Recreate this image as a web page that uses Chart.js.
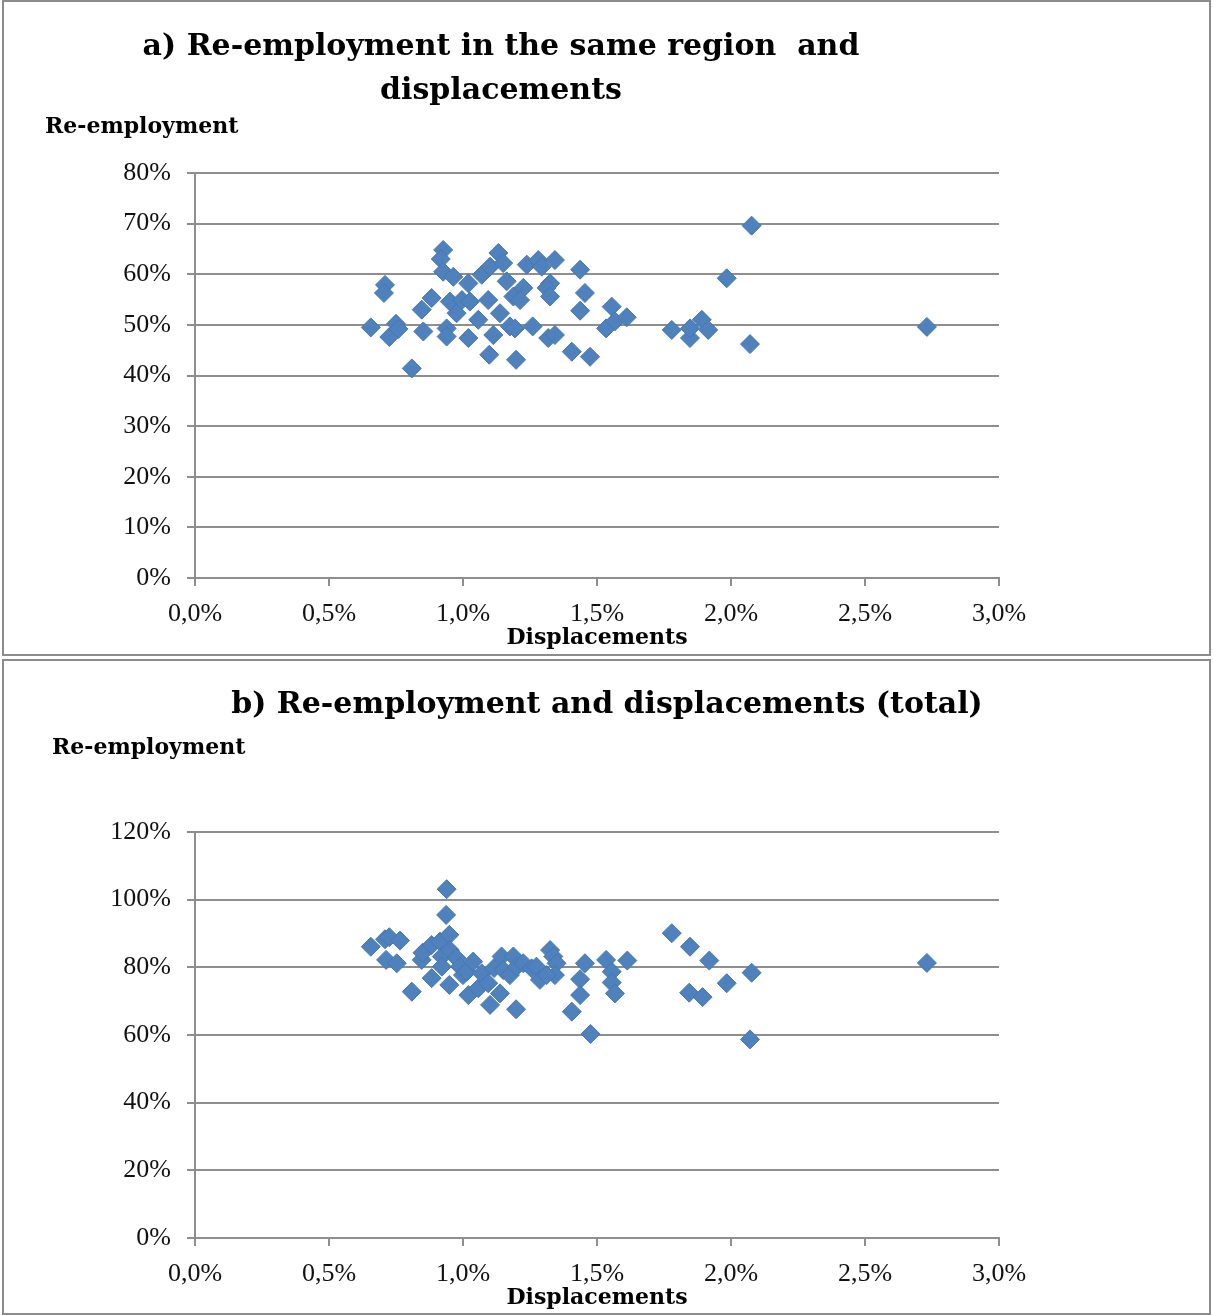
<!DOCTYPE html>
<html>
<head>
<meta charset="utf-8">
<title>Re-employment and displacements</title>
<script src="https://cdn.jsdelivr.net/npm/chart.js@4/dist/chart.umd.min.js"></script>
<style>
  html, body { margin: 0; padding: 0; background: #fff; }
  body { width: 1213px; height: 1316px; position: relative; overflow: hidden; }
  .frame { position: absolute; left: 2px; width: 1209px; height: 656px; border: 2px solid #8c8c8c; box-sizing: border-box; }
  #frameA { top: 0; }
  #frameB { top: 659px; }
  canvas { position: absolute; left: 0; }
  #chartA { top: 0; }
  #chartB { top: 657px; }
</style>
</head>
<body>
<div class="frame" id="frameA"></div>
<div class="frame" id="frameB"></div>
<canvas id="chartA" width="1213" height="657"></canvas>
<canvas id="chartB" width="1213" height="659"></canvas>
<script>
// Displacements (% of employment) and re-employment in the same region (%), one point per region
const displacementsA = [
  0.656, 0.709, 0.705, 0.725, 0.750, 0.759, 0.809, 0.846, 0.852, 0.883,
  0.926, 0.917, 0.926, 0.964, 0.939, 0.939, 0.951, 0.976, 0.996, 1.020,
  1.026, 1.020, 1.057, 1.070, 1.101, 1.094, 1.098, 1.113, 1.132, 1.150,
  1.163, 1.138, 1.188, 1.175, 1.198, 1.225, 1.213, 1.194, 1.238, 1.260,
  1.281, 1.294, 1.343, 1.325, 1.312, 1.325, 1.318, 1.343, 1.406, 1.437,
  1.455, 1.437, 1.474, 1.555, 1.534, 1.567, 1.611, 1.779, 1.847, 1.847,
  1.891, 1.915, 1.984, 2.077, 2.071, 2.731
];
const reemploymentSameRegion = [
  49.5, 57.9, 56.3, 47.6, 50.2, 49.2, 41.4, 53.0, 48.7, 55.3,
  64.8, 63.0, 60.5, 59.5, 49.3, 47.7, 54.6, 52.3, 54.9, 58.2,
  54.6, 47.4, 51.0, 59.9, 61.5, 54.9, 44.1, 48.0, 64.2, 62.2,
  58.6, 52.3, 55.6, 49.7, 43.1, 57.3, 54.9, 49.3, 61.9, 49.7,
  62.8, 61.5, 62.8, 58.2, 57.3, 55.6, 47.4, 48.0, 44.7, 60.9,
  56.3, 52.8, 43.7, 53.6, 49.3, 50.7, 51.5, 49.0, 47.4, 49.3,
  51.0, 49.0, 59.2, 69.6, 46.2, 49.6
];

// Displacements (%) and total re-employment (%)
const displacementsB = [
  0.656, 0.709, 0.725, 0.765, 0.713, 0.753, 0.809, 0.846, 0.849, 0.883,
  0.914, 0.883, 0.921, 0.921, 0.939, 0.937, 0.949, 0.951, 0.949, 0.976,
  0.989, 1.000, 1.014, 1.038, 1.020, 1.057, 1.070, 1.101, 1.094, 1.116,
  1.138, 1.144, 1.150, 1.188, 1.175, 1.200, 1.198, 1.225, 1.256, 1.274,
  1.287, 1.325, 1.337, 1.349, 1.343, 1.312, 1.406, 1.455, 1.437, 1.437,
  1.476, 1.534, 1.555, 1.555, 1.567, 1.613, 1.779, 1.847, 1.844, 1.894,
  1.919, 1.984, 2.077, 2.071, 2.731
];
const reemploymentTotal = [
  86.1, 88.3, 88.9, 87.9, 82.2, 81.2, 72.8, 82.2, 84.3, 86.6,
  87.6, 76.8, 83.2, 80.2, 103.1, 95.5, 89.6, 85.1, 74.8, 82.7,
  80.2, 77.7, 78.7, 81.7, 71.8, 73.8, 78.2, 68.9, 75.3, 79.8,
  72.3, 83.2, 79.2, 83.2, 77.7, 80.2, 67.6, 81.2, 79.7, 80.2,
  76.3, 85.1, 83.2, 81.2, 77.7, 77.7, 66.9, 81.2, 76.5, 71.8,
  60.3, 82.2, 78.7, 75.5, 72.3, 82.0, 90.1, 86.1, 72.5, 71.2,
  82.0, 75.3, 78.4, 58.7, 81.3
];

// Axis tick values
const xTicks = [0, 0.5, 1.0, 1.5, 2.0, 2.5, 3.0];
const yTicksA = [0, 10, 20, 30, 40, 50, 60, 70, 80];
const yTicksB = [0, 20, 40, 60, 80, 100, 120];

const titleA = ['a) Re-employment in the same region  and', 'displacements'];
const titleB = ['b) Re-employment and displacements (total)'];
const yAxisLabel = 'Re-employment';
const xAxisLabel = 'Displacements';

const SERIF = "'Liberation Serif', 'DejaVu Serif', serif";
const HEAD = "'DejaVu Serif', serif";
const GRID = '#8e8e8e';
const MARKER_FILL = '#4f81bd';
const MARKER_EDGE = '#4677b3';

// Draws the chart heading and the horizontal y-axis caption
const panelText = {
  id: 'panelText',
  afterDraw(chart, args, opts) {
    const ctx = chart.ctx;
    ctx.save();
    ctx.fillStyle = '#000';
    ctx.textBaseline = 'middle';
    ctx.textAlign = 'center';
    ctx.font = opts.titleFont;
    opts.title.forEach((line, i) => ctx.fillText(line, opts.titleX, opts.titleY + i * opts.titleLineHeight));
    ctx.textAlign = 'left';
    ctx.font = opts.labelFont;
    ctx.fillText(opts.label, opts.labelX, opts.labelY);
    ctx.restore();
  }
};

function toPoints(xs, ys) {
  return xs.map((x, i) => ({ x: x, y: ys[i] }));
}

function makeChart(canvasId, xs, ys, yTicks, title, text, pad) {
  const yMax = yTicks[yTicks.length - 1];
  const yStep = yTicks[1] - yTicks[0];
  return new Chart(document.getElementById(canvasId), {
    type: 'scatter',
    data: {
      datasets: [{
        data: toPoints(xs, ys),
        pointStyle: 'rectRot',
        pointRadius: 9.5,
        pointHoverRadius: 9.5,
        backgroundColor: MARKER_FILL,
        borderColor: MARKER_EDGE,
        borderWidth: 1
      }]
    },
    options: {
      responsive: false,
      animation: false,
      events: [],
      layout: { padding: pad },
      plugins: {
        legend: { display: false },
        tooltip: { enabled: false },
        panelText: Object.assign({ title: title, label: yAxisLabel }, text)
      },
      scales: {
        x: {
          type: 'linear',
          min: xTicks[0],
          max: xTicks[xTicks.length - 1],
          afterBuildTicks: (scale) => { scale.ticks = xTicks.map(v => ({ value: v })); },
          afterFit: (scale) => { scale.height = 73.4; },
          ticks: {
            padding: 13,
            maxRotation: 0,
            autoSkip: false,
            color: '#111',
            font: { family: SERIF, size: 26 },
            callback: (v) => v.toFixed(1).replace('.', ',') + '%'
          },
          grid: { drawOnChartArea: false, drawTicks: true, tickLength: 8, color: GRID, lineWidth: 2 },
          border: { display: true, color: GRID, width: 2 },
          title: {
            display: true,
            text: xAxisLabel,
            padding: 0,
            color: '#000',
            font: { family: HEAD, size: 22, weight: 'bold' }
          }
        },
        y: {
          type: 'linear',
          min: 0,
          max: yMax,
          afterBuildTicks: (scale) => { scale.ticks = yTicks.map(v => ({ value: v })); },
          afterFit: (scale) => { scale.width = 195; },
          ticks: {
            stepSize: yStep,
            padding: 16,
            color: '#111',
            font: { family: SERIF, size: 26 },
            callback: (v) => v + '%'
          },
          grid: { drawTicks: true, tickLength: 8, color: GRID, lineWidth: 2 },
          border: { display: true, color: GRID, width: 2 }
        }
      }
    },
    plugins: [panelText]
  });
}

makeChart('chartA', displacementsA, reemploymentSameRegion, yTicksA, titleA,
  { titleFont: "bold 30px " + HEAD, titleX: 501, titleY: 47, titleLineHeight: 44,
    labelFont: "bold 22px " + HEAD, labelX: 45, labelY: 127 },
  { left: 0, top: 173, right: 214, bottom: 5.6 });

makeChart('chartB', displacementsB, reemploymentTotal, yTicksB, titleB,
  { titleFont: "bold 30px " + HEAD, titleX: 607, titleY: 48, titleLineHeight: 44,
    labelFont: "bold 22px " + HEAD, labelX: 52, labelY: 91 },
  { left: 0, top: 175, right: 214, bottom: 4.6 });
</script>
</body>
</html>
